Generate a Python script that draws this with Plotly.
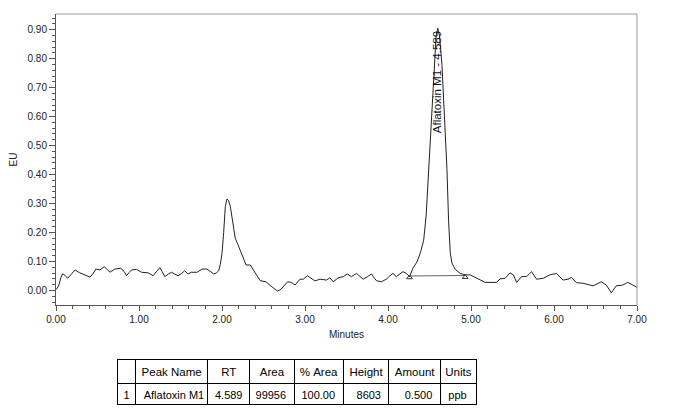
import plotly.graph_objects as go

# ---- chromatogram data (minutes, EU) ----
time_min = [0.00, 0.03, 0.06, 0.08, 0.11, 0.14, 0.18, 0.23, 0.28, 0.33, 0.37, 0.41, 0.45, 0.48,
            0.53, 0.58, 0.62, 0.65, 0.71, 0.78, 0.82, 0.85, 0.88, 0.91, 0.97, 1.03, 1.11, 1.17,
            1.21, 1.25, 1.28, 1.31, 1.35, 1.39, 1.43, 1.47, 1.51, 1.55, 1.59, 1.63, 1.70, 1.76,
            1.82, 1.86, 1.90, 1.93, 1.96, 1.98, 2.00, 2.02, 2.03, 2.04, 2.06, 2.08, 2.10, 2.12,
            2.14, 2.16, 2.19, 2.22, 2.26, 2.29, 2.34, 2.37, 2.40, 2.43, 2.46, 2.53, 2.57, 2.60,
            2.64, 2.67, 2.71, 2.74, 2.79, 2.82, 2.84, 2.88, 2.91, 2.94, 2.98, 3.03, 3.07, 3.12,
            3.18, 3.23, 3.26, 3.30, 3.34, 3.40, 3.46, 3.51, 3.56, 3.62, 3.66, 3.70, 3.75, 3.80,
            3.83, 3.86, 3.92, 3.98, 4.02, 4.06, 4.10, 4.14, 4.18, 4.22, 4.26, 4.30, 4.35, 4.39,
            4.43, 4.46, 4.49, 4.53, 4.56, 4.58, 4.60, 4.62, 4.65, 4.68, 4.71, 4.73, 4.75, 4.77,
            4.81, 4.87, 4.93, 4.99, 5.05, 5.11, 5.17, 5.31, 5.35, 5.41, 5.47, 5.51, 5.55, 5.61,
            5.67, 5.73, 5.79, 5.87, 5.95, 6.03, 6.11, 6.17, 6.21, 6.27, 6.35, 6.47, 6.57, 6.63,
            6.69, 6.75, 6.83, 6.89, 6.95, 7.00]
signal_eu = [0.003, 0.015, 0.045, 0.058, 0.052, 0.042, 0.055, 0.071, 0.062, 0.055, 0.050, 0.046, 0.060, 0.074,
             0.071, 0.082, 0.072, 0.063, 0.074, 0.077, 0.066, 0.051, 0.062, 0.071, 0.073, 0.063, 0.061, 0.051,
             0.065, 0.079, 0.065, 0.048, 0.056, 0.063, 0.057, 0.051, 0.058, 0.068, 0.057, 0.063, 0.063, 0.074,
             0.074, 0.066, 0.057, 0.060, 0.068, 0.090, 0.128, 0.200, 0.255, 0.290, 0.316, 0.310, 0.290, 0.255,
             0.210, 0.180, 0.160, 0.140, 0.110, 0.088, 0.088, 0.075, 0.059, 0.045, 0.034, 0.030, 0.022, 0.013,
             0.004, -0.002, 0.004, 0.013, 0.030, 0.029, 0.027, 0.019, 0.030, 0.039, 0.039, 0.051, 0.043, 0.033,
             0.039, 0.037, 0.036, 0.044, 0.030, 0.044, 0.048, 0.057, 0.048, 0.059, 0.050, 0.039, 0.047, 0.057,
             0.045, 0.034, 0.030, 0.039, 0.050, 0.059, 0.048, 0.058, 0.065, 0.059, 0.048, 0.077, 0.099, 0.130,
             0.174, 0.260, 0.420, 0.620, 0.780, 0.880, 0.905, 0.880, 0.780, 0.620, 0.420, 0.240, 0.130, 0.095,
             0.073, 0.059, 0.054, 0.054, 0.045, 0.036, 0.028, 0.028, 0.040, 0.042, 0.061, 0.054, 0.028, 0.048,
             0.048, 0.065, 0.039, 0.042, 0.054, 0.059, 0.036, 0.039, 0.045, 0.027, 0.025, 0.016, 0.030, 0.019,
             -0.008, 0.016, 0.019, 0.028, 0.019, 0.011]

# ---- integration baseline of the peak ----
baseline_t = [4.26, 4.93]
baseline_eu = [0.050, 0.052]
marker_eu = [0.045, 0.046]

peak_label = "Aflatoxin M1 - 4.589"
peak_rt = 4.60
peak_label_y = 0.718

# ---- results table ----
table_header = ["", "Peak Name", "RT", "Area", "% Area", "Height", "Amount", "Units"]
col_no = ["1"]
col_name = ["Aflatoxin M1"]
col_rt = ["4.589"]
col_area = ["99956"]
col_parea = ["100.00"]
col_height = ["8603"]
col_amount = ["0.500"]
col_units = ["ppb"]
col_widths = [18.4, 72, 42.3, 44.3, 49, 46, 51.4, 36]

W, H = 673, 416
FONT = "Liberation Sans, Arial, sans-serif"
AX = "#555555"
FRAME = "#9a9a9a"


def nb(items):
    # non-breaking spaces so the table never wraps words
    return [s.replace(" ", "\u00a0") for s in items]


fig = go.Figure()
fig.add_trace(go.Scatter(x=time_min, y=signal_eu, mode="lines",
                         line=dict(color="#222222", width=1), hoverinfo="skip",
                         showlegend=False))
fig.add_trace(go.Scatter(x=baseline_t, y=baseline_eu, mode="lines",
                         line=dict(color="#666666", width=1), showlegend=False))
fig.add_trace(go.Scatter(x=baseline_t, y=marker_eu, mode="markers",
                         marker=dict(symbol="triangle-up-open", size=5, color="#333333",
                                     line=dict(width=1)), showlegend=False))

fig.add_annotation(x=peak_rt, y=peak_label_y, text=peak_label, textangle=-90,
                   showarrow=False, xanchor="center", yanchor="middle",
                   font=dict(family=FONT, size=11.5, color="#111111"))

# light-gray top and right frame lines
fig.add_shape(type="line", xref="x domain", yref="y domain", x0=0, x1=1, y0=1, y1=1,
              line=dict(color=FRAME, width=1))
fig.add_shape(type="line", xref="x domain", yref="y domain", x0=1, x1=1, y0=0, y1=1,
              line=dict(color=FRAME, width=1))

fig.add_trace(go.Table(
    domain=dict(x=[117.3 / W, 476.7 / W], y=[0.0, (H - 359) / H]),
    columnwidth=col_widths,
    header=dict(values=nb(table_header), height=24, align="center",
                fill_color="white", line=dict(color="black", width=1),
                font=dict(family=FONT, size=11.5, color="black")),
    cells=dict(values=[nb(col_no), nb(col_name), nb(col_rt), nb(col_area), nb(col_parea),
                       nb(col_height), nb(col_amount), nb(col_units)],
               height=21,
               align=["center", "left", "center", "right", "right", "right", "right", "left"],
               fill_color="white", line=dict(color="black", width=1),
               font=dict(family=FONT, size=11, color="black")),
))

fig.update_layout(
    template="none",
    width=W, height=H,
    margin=dict(l=0, r=0, t=0, b=0),
    paper_bgcolor="white", plot_bgcolor="white",
    font=dict(family=FONT, size=10, color="#222222"),
    showlegend=False,
    xaxis=dict(domain=[56 / W, 637 / W], range=[0, 7], dtick=1, tick0=0, tickformat=".2f",
               showgrid=False, zeroline=False, showline=True, linecolor=AX, linewidth=1,
               mirror=False, ticks="outside", ticklen=5, tickcolor=AX, automargin=False,
               minor=dict(dtick=0.2, ticks="outside", ticklen=3, tickcolor=AX),
               tickfont=dict(size=10, color="#222222"),
               title=dict(text="Minutes", font=dict(size=10, color="#222222"), standoff=6)),
    yaxis=dict(domain=[(H - 305) / H, (H - 14) / H], range=[-0.05, 0.954], dtick=0.1, tick0=0,
               tickformat=".2f", showgrid=False, zeroline=False, showline=True, linecolor=AX,
               linewidth=1, mirror=False, ticks="outside", ticklen=6, tickcolor=AX, automargin=False,
               minor=dict(dtick=0.02, ticks="outside", ticklen=3, tickcolor=AX),
               tickfont=dict(size=10, color="#222222"),
               title=dict(text="EU", font=dict(size=10, color="#222222"), standoff=8)),
)

fig.write_html("out.html")
